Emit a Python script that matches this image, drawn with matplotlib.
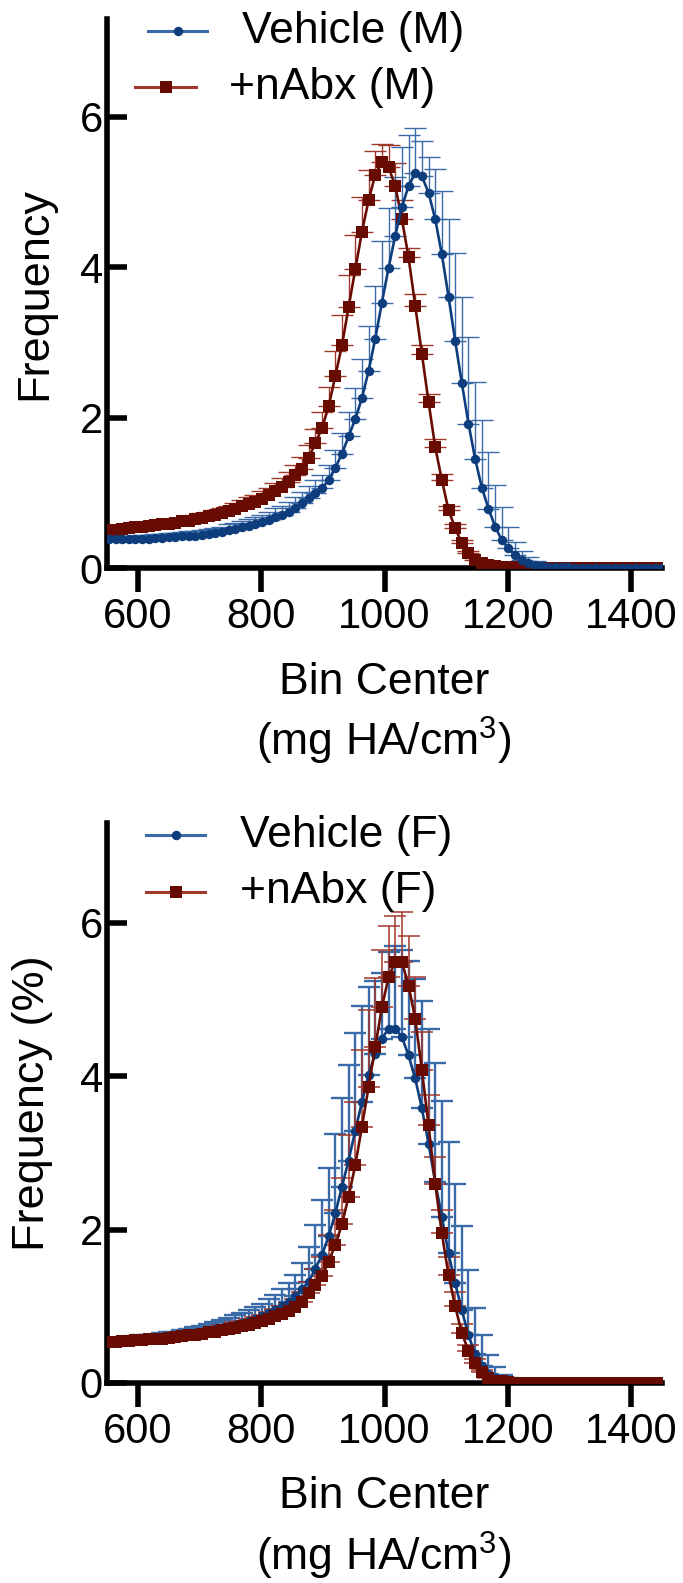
import matplotlib
matplotlib.use("Agg")
import matplotlib.pyplot as plt
from matplotlib.lines import Line2D
import numpy as np

plt.rcParams['font.family'] = ['Liberation Sans', 'DejaVu Sans']
plt.rcParams['mathtext.fontset'] = 'custom'
plt.rcParams['mathtext.rm'] = 'Liberation Sans'

# bin centers (mg HA/cm^3), 84 bins
bin_center = np.round(553 + 10.8 * np.arange(84), 1)

# --- males ---
veh_m = [0.38, 0.38, 0.38, 0.38, 0.38, 0.39, 0.39, 0.40, 0.40, 0.41, 0.41,
         0.42, 0.43, 0.43, 0.44, 0.45, 0.46, 0.48, 0.50, 0.52, 0.54,
         0.56, 0.58, 0.61, 0.64, 0.68, 0.71, 0.75, 0.80, 0.86, 0.93,
         1.00, 1.06, 1.17, 1.33, 1.52, 1.75, 1.98, 2.26, 2.62, 3.05,
         3.53, 3.99, 4.42, 4.80, 5.08, 5.25, 5.21, 4.99, 4.64, 4.17,
         3.61, 3.02, 2.46, 1.92, 1.45, 1.07, 0.79, 0.55, 0.37, 0.26,
         0.17, 0.10, 0.06, 0.04, 0.02, 0.01, 0.01, 0.01, 0.01,
         0, 0, 0, 0, 0, 0, 0, 0, 0, 0, 0, 0, 0, 0]
veh_m_err = [0.04, 0.04, 0.04, 0.04, 0.04, 0.05, 0.05, 0.05, 0.05, 0.05, 0.05,
             0.06, 0.06, 0.06, 0.06, 0.07, 0.07, 0.07, 0.08, 0.08, 0.09,
             0.09, 0.10, 0.10, 0.11, 0.12, 0.12, 0.13, 0.14, 0.15, 0.16,
             0.17, 0.18, 0.20, 0.24, 0.28, 0.33, 0.42, 0.52, 0.60, 0.70,
             0.82, 0.80, 0.78, 0.80, 0.68, 0.60, 0.47, 0.47, 0.67, 0.84,
             1.03, 1.17, 1.15, 1.15, 1.02, 0.90, 0.75, 0.55, 0.44, 0.29,
             0.18, 0.13, 0.08, 0.05, 0.03, 0.02, 0.01, 0.01, 0.01,
             0, 0, 0, 0, 0, 0, 0, 0, 0, 0, 0, 0, 0, 0]
abx_m = [0.50, 0.51, 0.52, 0.53, 0.54, 0.55, 0.56, 0.57, 0.58, 0.59, 0.60,
         0.62, 0.63, 0.65, 0.67, 0.69, 0.71, 0.73, 0.76, 0.79, 0.82,
         0.85, 0.88, 0.92, 0.97, 1.02, 1.08, 1.15, 1.23, 1.32, 1.46,
         1.66, 1.86, 2.15, 2.55, 2.96, 3.47, 3.97, 4.47, 4.89, 5.23,
         5.40, 5.33, 5.08, 4.64, 4.13, 3.49, 2.85, 2.21, 1.61, 1.17,
         0.77, 0.53, 0.33, 0.20, 0.11, 0.07, 0.04, 0.02, 0.01, 0.01,
         0.01, 0.01, 0, 0, 0, 0, 0, 0, 0, 0, 0,
         0, 0, 0, 0, 0, 0, 0, 0, 0, 0, 0, 0]
abx_m_err = [0.04, 0.04, 0.04, 0.04, 0.04, 0.04, 0.04, 0.04, 0.04, 0.04, 0.04,
             0.05, 0.05, 0.05, 0.06, 0.06, 0.06, 0.07, 0.07, 0.08, 0.08,
             0.09, 0.09, 0.10, 0.10, 0.11, 0.12, 0.13, 0.14, 0.15, 0.17,
             0.19, 0.22, 0.26, 0.34, 0.40, 0.43, 0.46, 0.46, 0.40, 0.32,
             0.24, 0.30, 0.30, 0.25, 0.12, 0.15, 0.12, 0.10, 0.10, 0.08,
             0.06, 0.05, 0.04, 0.03, 0.02, 0.02, 0.01, 0.01, 0, 0,
             0, 0, 0, 0, 0, 0, 0, 0, 0, 0, 0,
             0, 0, 0, 0, 0, 0, 0, 0, 0, 0, 0, 0]

# --- females ---
veh_f = [0.55, 0.55, 0.55, 0.56, 0.56, 0.57, 0.57, 0.58, 0.59, 0.60, 0.61,
         0.62, 0.63, 0.65, 0.66, 0.68, 0.70, 0.72, 0.74, 0.76, 0.78,
         0.81, 0.84, 0.87, 0.91, 0.95, 1.00, 1.06, 1.13, 1.22, 1.32,
         1.49, 1.67, 1.91, 2.21, 2.56, 2.90, 3.29, 3.66, 4.02, 4.29,
         4.49, 4.62, 4.62, 4.51, 4.27, 3.97, 3.58, 3.12, 2.62, 2.17,
         1.69, 1.30, 0.95, 0.62, 0.38, 0.22, 0.12, 0.06, 0.03, 0.02,
         0.01, 0.01, 0.01, 0, 0, 0, 0, 0, 0, 0, 0,
         0, 0, 0, 0, 0, 0, 0, 0, 0, 0, 0, 0]
veh_f_err = [0.04, 0.04, 0.04, 0.04, 0.05, 0.05, 0.05, 0.05, 0.06, 0.06, 0.06,
             0.07, 0.07, 0.08, 0.08, 0.09, 0.09, 0.10, 0.11, 0.12, 0.13,
             0.14, 0.15, 0.16, 0.18, 0.20, 0.22, 0.25, 0.28, 0.35, 0.45,
             0.57, 0.71, 0.89, 1.04, 1.15, 1.24, 1.27, 1.26, 1.14, 0.95,
             0.85, 1.00, 1.08, 1.14, 1.23, 1.30, 1.40, 1.50, 1.55, 1.50,
             1.45, 1.30, 1.10, 0.85, 0.60, 0.40, 0.25, 0.15, 0.08, 0.04,
             0.02, 0.01, 0.01, 0, 0, 0, 0, 0, 0, 0, 0,
             0, 0, 0, 0, 0, 0, 0, 0, 0, 0, 0, 0]
abx_f = [0.54, 0.54, 0.55, 0.55, 0.56, 0.56, 0.57, 0.57, 0.58, 0.59, 0.60,
         0.61, 0.62, 0.63, 0.64, 0.66, 0.67, 0.69, 0.70, 0.72, 0.74,
         0.76, 0.78, 0.81, 0.84, 0.87, 0.90, 0.94, 0.99, 1.06, 1.17,
         1.28, 1.39, 1.58, 1.80, 2.07, 2.43, 2.84, 3.34, 3.86, 4.38,
         4.90, 5.29, 5.49, 5.49, 5.18, 4.75, 4.08, 3.36, 2.60, 1.95,
         1.41, 1.00, 0.65, 0.42, 0.26, 0.14, 0.07, 0.03, 0.02, 0.01,
         0, 0, 0, 0, 0, 0, 0, 0, 0, 0, 0,
         0, 0, 0, 0, 0, 0, 0, 0, 0, 0, 0, 0]
abx_f_err = [0.03, 0.03, 0.03, 0.03, 0.03, 0.03, 0.04, 0.04, 0.04, 0.04, 0.04,
             0.04, 0.05, 0.05, 0.05, 0.05, 0.06, 0.06, 0.06, 0.07, 0.07,
             0.08, 0.08, 0.08, 0.09, 0.09, 0.10, 0.10, 0.11, 0.12, 0.15,
             0.20, 0.25, 0.35, 0.45, 0.60, 0.80, 0.82, 1.00, 1.00, 0.90,
             0.74, 0.67, 0.60, 0.65, 0.65, 0.54, 0.50, 0.40, 0.35, 0.30,
             0.23, 0.18, 0.12, 0.08, 0.05, 0.03, 0.02, 0.01, 0, 0,
             0, 0, 0, 0, 0, 0, 0, 0, 0, 0, 0,
             0, 0, 0, 0, 0, 0, 0, 0, 0, 0, 0, 0]

for arr in (veh_m, veh_m_err, abx_m, abx_m_err, veh_f, veh_f_err, abx_f, abx_f_err):
    assert len(arr) == len(bin_center), len(arr)

x_ticks = [600, 800, 1000, 1200, 1400]
y_ticks = [0, 2, 4, 6]
labels_m = ['Vehicle (M)', '+nAbx (M)']
labels_f = ['Vehicle (F)', '+nAbx (F)']

BLUE, BLUE_ERR = '#0d3d7c', '#3a6aa8'
RED, RED_ERR = '#680c02', '#a1382c'

W, H = 683, 1583
fig = plt.figure(figsize=(W / 100, H / 100), dpi=100)


def fx(px):
    return px / W


def fy(py):
    return 1 - py / H


def draw_series(ax, y, err, color, ecolor, marker, ms, elw):
    y = np.asarray(y)
    err = np.asarray(err)
    ax.errorbar(bin_center, y, yerr=[np.zeros_like(err), err], fmt='none',
                ecolor=ecolor, elinewidth=elw, capsize=8, capthick=elw, zorder=2)
    ax.plot(bin_center, y, color=color, lw=1.9, marker=marker, ms=ms,
            markeredgewidth=0, zorder=3)


def make_panel(top_px, bottom_px, series, ylab, ylab_x, leg_labels, leg_pos):
    ax = fig.add_axes([fx(107), fy(bottom_px), fx(662) - fx(107), fy(top_px) - fy(bottom_px)])
    for y, err, c, ec, mk, ms, elw in series:
        draw_series(ax, y, err, c, ec, mk, ms, elw)
    ax.set_xlim(550, 1450)
    ax.set_ylim(0, 7.3)
    ax.set_xticks(x_ticks)
    ax.set_yticks(y_ticks)
    for s in ['top', 'right']:
        ax.spines[s].set_visible(False)
    for s in ['left', 'bottom']:
        ax.spines[s].set_linewidth(4)
    ax.tick_params(axis='x', direction='out', length=17, width=4, labelsize=30, pad=4)
    ax.tick_params(axis='y', direction='in', length=14.5, width=4, labelsize=30, pad=3)

    fig.text(fx(ylab_x), fy((top_px + bottom_px) / 2), ylab, rotation=90,
             ha='center', va='center', fontsize=32.5)
    fig.text(fx(384), fy(bottom_px + 114), 'Bin Center', ha='center', va='center', fontsize=32)
    fig.text(fx(384), fy(bottom_px + 173), '(mg HA/cm$^3$)', ha='center', va='center', fontsize=32)

    # legend drawn by hand, vehicle first
    ordered = sorted(series, key=lambda s: 0 if s[2] == BLUE else 1)
    for (y_row, x0, x1, tx), lab, (y, err, c, ec, mk, ms, elw) in zip(leg_pos, leg_labels, ordered):
        fig.add_artist(Line2D([fx(x0), fx(x1)], [fy(y_row), fy(y_row)],
                              transform=fig.transFigure, color=ec, lw=2.2))
        fig.add_artist(Line2D([fx((x0 + x1) / 2)], [fy(y_row)], transform=fig.transFigure,
                              color=c, marker=mk, ms=ms, markeredgewidth=0, lw=0))
        fig.text(fx(tx), fy(y_row), lab, ha='left', va='center', fontsize=32)
    return ax


# top: blue drawn over red
make_panel(19, 568,
           [(abx_m, abx_m_err, RED, RED_ERR, 's', 8, 1.0),
            (veh_m, veh_m_err, BLUE, BLUE_ERR, 'o', 6.8, 1.0)],
           'Frequency', 35, labels_m,
           [(31, 148, 207, 242), (87, 135, 196, 229)])

# bottom: red drawn over blue
make_panel(823, 1383,
           [(veh_f, veh_f_err, BLUE, BLUE_ERR, 'o', 6.8, 1.7),
            (abx_f, abx_f_err, RED, RED_ERR, 's', 8, 1.1)],
           'Frequency (%)', 33, labels_f,
           [(835, 146, 205, 240), (892, 146, 205, 240)])

fig.savefig('out.png', dpi=100)
